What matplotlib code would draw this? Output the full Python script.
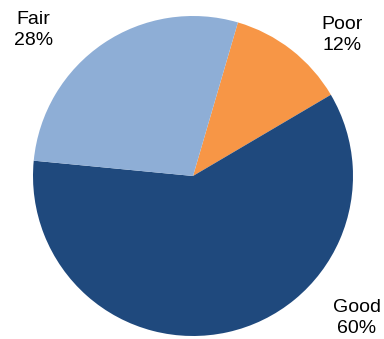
import matplotlib.pyplot as plt

categories = ["Poor", "Good", "Fair"]
shares = [12, 60, 28]  # percent
colors = ["#F79646", "#1F497D", "#8EAED6"]

plt.rcParams['font.family'] = ['Liberation Sans', 'DejaVu Sans']

fig = plt.figure(figsize=(3.84, 3.39), dpi=100)
ax = fig.add_axes([0, 0, 1, 1])

ax.pie(shares, colors=colors, startangle=73.7, counterclock=False,
       radius=1.0, center=(0, 0), wedgeprops=dict(linewidth=0))

# label spots (data units), placed outside the pie
label_pos = {"Poor": (0.93, 0.88), "Good": (1.025, -0.885), "Fair": (-0.995, 0.915)}
for name, val in zip(categories, shares):
    x, y = label_pos[name]
    ax.text(x, y, f"{name}\n{val}%", ha="center", va="center",
            fontsize=14, linespacing=1.3, color="black")

ax.set_xlim(-193 / 160, (384 - 193) / 160)
ax.set_ylim(-(339 - 176) / 160, 176 / 160)
ax.set_aspect("auto")
ax.axis("off")

fig.savefig("out.png", dpi=100)
